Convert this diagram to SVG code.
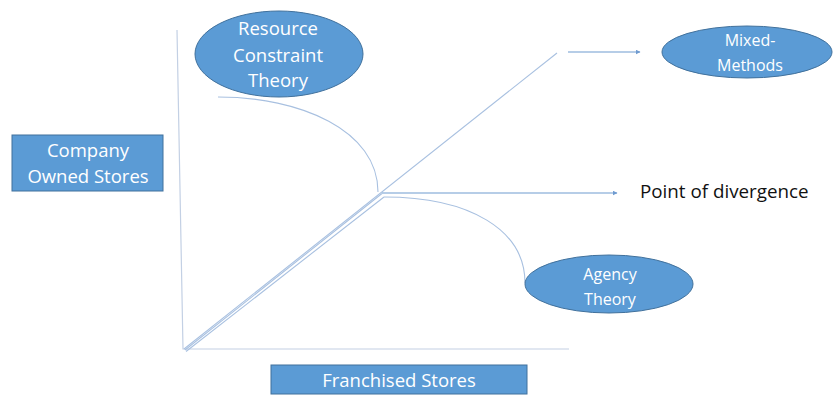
<svg xmlns="http://www.w3.org/2000/svg" width="834" height="395" viewBox="0 0 834 395">
  <style>
    .shape { fill: #5b9bd5; stroke: #41719c; stroke-width: 1; }
    .label { font-family: "Open Sans", "Liberation Sans", sans-serif; font-size: 18.5px; fill: #ffffff; text-anchor: middle; }
    .small { font-size: 16px; }
    .plain { font-family: "Open Sans", "Liberation Sans", sans-serif; font-size: 18.8px; fill: #111111; }
    .axis { fill: none; stroke: #c3d0e4; stroke-width: 1.2; }
    .path { fill: none; stroke: #a8c0e0; stroke-width: 1.1; }
    .arrow { fill: none; stroke: #6f9bd0; stroke-width: 1.1; marker-end: url(#tip); }
  </style>
  <defs>
    <marker id="tip" viewBox="0 0 10 10" refX="9" refY="5" markerWidth="5" markerHeight="5" orient="auto" markerUnits="userSpaceOnUse">
      <path d="M0,0 L10,5 L0,10 z" fill="#6f9bd0"/>
    </marker>
  </defs>
  <rect width="834" height="395" fill="#ffffff"/>

  <g id="connectors">
    <!-- axes -->
    <path class="axis" d="M177,30 L183,349 L569,349"/>
    <!-- three strands from the origin -->
    <path class="path" d="M184,349 L557,53"/>
    <path class="path" d="M185,350 L382,193.5"/>
    <path class="path" d="M186,351.5 L384,197"/>
    <!-- resource constraint curve -->
    <path class="path" d="M218,97 C300,97 378,130 378,192"/>
    <!-- agency curve -->
    <path class="path" d="M384,197 C470,197 525,230 525,283"/>
    <!-- arrows -->
    <path class="arrow" d="M568,52 L640,52"/>
    <path class="arrow" d="M382,193 L617,193"/>
  </g>

  <g id="company-owned">
    <rect class="shape" x="12" y="135" width="151" height="56"/>
    <text class="label" x="88" y="157">Company</text>
    <text class="label" x="88" y="183">Owned Stores</text>
  </g>

  <g id="franchised">
    <rect class="shape" x="271" y="365" width="256" height="29"/>
    <text class="label" x="399" y="387">Franchised Stores</text>
  </g>

  <g id="resource-constraint">
    <ellipse class="shape" cx="279" cy="54" rx="84" ry="43"/>
    <text class="label" x="278" y="35">Resource</text>
    <text class="label" x="278" y="62">Constraint</text>
    <text class="label" x="278" y="87">Theory</text>
  </g>

  <g id="mixed-methods">
    <ellipse class="shape" cx="747" cy="52" rx="85" ry="26"/>
    <text class="label small" x="750" y="46">Mixed-</text>
    <text class="label small" x="750" y="71">Methods</text>
  </g>

  <g id="agency">
    <ellipse class="shape" cx="609" cy="284" rx="84" ry="29"/>
    <text class="label small" x="610" y="280">Agency</text>
    <text class="label small" x="610" y="305">Theory</text>
  </g>

  <g id="divergence">
    <text class="plain" x="640" y="198">Point of divergence</text>
  </g>
</svg>
